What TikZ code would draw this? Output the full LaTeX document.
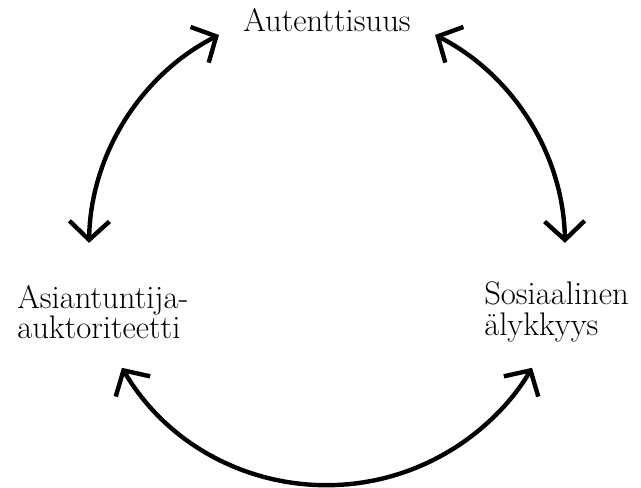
\documentclass[tikz,border=0pt]{standalone}
\usepackage{tikz}
\usetikzlibrary{arrows.meta, calc, positioning}

\tikzstyle{arrow}     = [line width=3.3pt, {Straight Barb[length=14pt, width=30pt]}-{Straight Barb[length=14pt, width=30pt]}]
\tikzstyle{label}     = [inner sep=0pt, align=left, font=\fontsize{24.5}{23}\selectfont]

\begin{document}
\begin{tikzpicture}[x=0.75pt, y=0.75pt]

    \useasboundingbox (0,0) rectangle (641,487);

    \coordinate (C) at (327,240);

    \node[label] (aut) at (327,467) {Autenttisuus};
    \node[label, anchor=west] (asi) at (17,175) {Asiantuntija-\\auktoriteetti};
    \node[label, anchor=west] (sos) at (484,175) {Sosiaalinen\\älykkyys};

    % points on the circle
    \coordinate (TL) at ($(C)+(117:238)$);
    \coordinate (TR) at ($(C)+(63:238)$);
    \coordinate (BL) at ($(C)+(210.5:238)$);

    \draw[arrow] (TL) arc[start angle=117, end angle=179, radius=238];
    \draw[arrow] (TR) arc[start angle=63, end angle=1, radius=238];
    \draw[arrow] (BL) arc[start angle=210.5, end angle=329.5, radius=238];

\end{tikzpicture}
\end{document}
